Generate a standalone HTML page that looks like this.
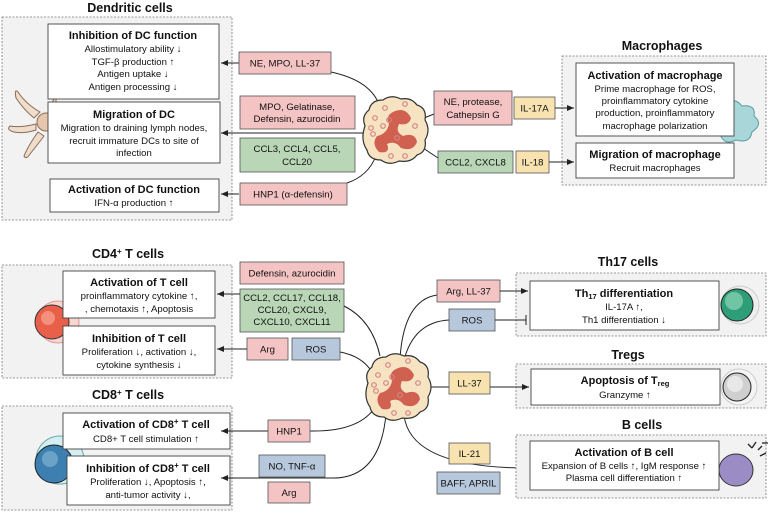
<!DOCTYPE html>
<html><head><meta charset="utf-8"><style>
html,body{margin:0;padding:0;background:#fff}
svg text{font-family:"Liberation Sans",sans-serif;fill:#111}
.b{font-weight:bold;font-size:11px}
.n{font-size:9.6px}
.t{font-weight:bold;font-size:12.5px}
.c{fill:#f2f2f2;stroke:#777;stroke-dasharray:2,1.5;stroke-width:0.8}
.w{fill:#fff;stroke:#444;stroke-width:0.9}
.pk{fill:#f4c3c3;stroke:#555;stroke-width:0.8}
.gr{fill:#b9d7b7;stroke:#555;stroke-width:0.8}
.ye{fill:#f8e3b0;stroke:#555;stroke-width:0.8}
.bl{fill:#b7c8dd;stroke:#555;stroke-width:0.8}
.l{stroke:#222;stroke-width:1;fill:none}
</style></head><body>
<svg width="768" height="513" viewBox="0 0 768 513" xmlns="http://www.w3.org/2000/svg">
<defs>
<marker id="a" markerWidth="8" markerHeight="8" refX="7" refY="4" orient="auto" markerUnits="userSpaceOnUse"><path d="M0,1 L7,4 L0,7z" fill="#222"/></marker>
<g id="neu">
<path d="M-30,-4 Q-34,-14 -26,-20 Q-24,-30 -12,-30 Q-4,-36 6,-31 Q16,-33 22,-25 Q32,-22 30,-10 Q36,0 30,10 Q32,22 22,25 Q16,33 4,31 Q-6,36 -14,30 Q-26,30 -28,20 Q-35,10 -30,-4z" fill="#f6e3c2" stroke="#333" stroke-width="1.2"/>
<path d="M-2,-18 Q10,-24 16,-12 Q14,-4 4,-6 Q0,2 8,6 Q20,2 22,12 Q18,22 6,18 Q0,10 -8,14 Q-4,24 -16,22 Q-24,14 -18,6 Q-8,4 -6,-6 Q-10,-14 -2,-18z" fill="#d0604f"/>
<g fill="none" stroke="#d58585" stroke-width="1.2">
<circle cx="-20" cy="-12" r="2.3"/><circle cx="-10" cy="-22" r="2.3"/><circle cx="-22" cy="4" r="2.3"/><circle cx="-12" cy="-4" r="2.3"/><circle cx="20" cy="-4" r="2.3"/><circle cx="-4" cy="26" r="2.3"/><circle cx="10" cy="26" r="2.3"/><circle cx="-24" cy="-2" r="2.3"/><circle cx="10" cy="-26" r="2.3"/><circle cx="-6" cy="-10" r="2.3"/><circle cx="2" cy="8" r="2.3"/></g>
</g>
</defs>

<!-- Dendritic -->
<text class="t" x="130" y="12" text-anchor="middle">Dendritic cells</text>
<rect class="c" x="2" y="17" width="230" height="203"/>
<g fill="#f0dccb" stroke="#8a6b55" stroke-width="1">
<path d="M40,112 Q26,104 18,92 Q14,88 16,98 Q24,110 34,118z"/>
<path d="M36,124 Q20,128 10,126 Q6,130 14,132 Q24,134 36,130z"/>
<path d="M38,132 Q28,146 24,156 Q26,160 30,154 Q38,144 44,136z"/>
<path d="M50,112 Q52,100 56,96 L56,112z"/>
</g>
<circle cx="46" cy="122" r="9" fill="#e6c6ad" stroke="#8a6b55"/>
<rect class="w" x="48" y="24" width="171" height="75"/>
<text text-anchor="middle" x="133"><tspan class="b" x="133" y="39">Inhibition of DC function</tspan><tspan class="n" x="133" y="52">Allostimulatory ability ↓</tspan><tspan class="n" x="133" y="65">TGF-β production ↑</tspan><tspan class="n" x="133" y="77">Antigen uptake ↓</tspan><tspan class="n" x="133" y="90">Antigen processing ↓</tspan></text>
<rect class="w" x="48" y="102" width="172" height="61"/>
<text text-anchor="middle"><tspan class="b" x="134" y="118">Migration of DC</tspan><tspan class="n" x="134" y="131">Migration to draining lymph nodes,</tspan><tspan class="n" x="134" y="144">recruit immature DCs to site of</tspan><tspan class="n" x="134" y="156">infection</tspan></text>
<rect class="w" x="50" y="179" width="169" height="33"/>
<text text-anchor="middle"><tspan class="b" x="134" y="193">Activation of DC function</tspan><tspan class="n" x="134" y="206">IFN-α production ↑</tspan></text>

<path class="l" d="M239,63 L221,63" marker-end="url(#a)"/>
<path class="l" d="M363,133 L221,133" marker-end="url(#a)"/>
<path class="l" d="M239,194 L221,194" marker-end="url(#a)"/>
<path class="l" d="M331,72 Q368,80 378,102"/>
<path class="l" d="M347,183 Q368,176 376,156"/>
<rect class="pk" x="239" y="52" width="92" height="22"/><text class="n" x="285" y="66.5" text-anchor="middle">NE, MPO, LL-37</text>
<rect class="pk" x="240" y="96" width="115" height="33"/><text class="n" text-anchor="middle"><tspan x="297" y="110">MPO, Gelatinase,</tspan><tspan x="297" y="122">Defensin, azurocidin</tspan></text>
<rect class="gr" x="240" y="138" width="115" height="34"/><text class="n" text-anchor="middle"><tspan x="297" y="152">CCL3, CCL4, CCL5,</tspan><tspan x="297" y="165">CCL20</tspan></text>
<rect class="pk" x="240" y="183" width="107" height="22"/><text class="n" x="293" y="197.5" text-anchor="middle">HNP1 (α-defensin)</text>

<!-- Macrophages -->
<path class="l" d="M424,118 L434,114"/>
<path class="l" d="M420,146 L438,158"/>
<use href="#neu" x="395" y="130"/>
<text class="t" x="662" y="50" text-anchor="middle">Macrophages</text>
<rect class="c" x="562" y="56" width="204" height="129"/>
<path d="M722,104 Q734,96 742,106 Q756,104 754,116 Q764,124 752,132 Q750,144 736,140 Q724,146 720,134" fill="#a9d6d9" stroke="#5a9ea3"/>
<rect class="w" x="576" y="63" width="158" height="73"/>
<text text-anchor="middle"><tspan class="b" x="655" y="79">Activation of macrophage</tspan><tspan class="n" x="655" y="92">Prime macrophage for ROS,</tspan><tspan class="n" x="655" y="104">proinflammatory cytokine</tspan><tspan class="n" x="655" y="116">production, proinflammatory</tspan><tspan class="n" x="655" y="129">macrophage polarization</tspan></text>
<rect class="w" x="576" y="143" width="158" height="35"/>
<text text-anchor="middle"><tspan class="b" x="655" y="158">Migration of macrophage</tspan><tspan class="n" x="655" y="171">Recruit macrophages</tspan></text>
<rect class="pk" x="434" y="91" width="78" height="34"/><text class="n" text-anchor="middle"><tspan x="473" y="105">NE, protease,</tspan><tspan x="473" y="118">Cathepsin G</tspan></text>
<rect class="ye" x="514" y="97" width="41" height="22"/><text class="n" x="534.5" y="111.5" text-anchor="middle">IL-17A</text>
<path class="l" d="M555,108 L574,108" marker-end="url(#a)"/>
<rect class="gr" x="438" y="151" width="75" height="22"/><text class="n" x="475.5" y="165.5" text-anchor="middle">CCL2, CXCL8</text>
<rect class="ye" x="516" y="151" width="33" height="22"/><text class="n" x="532.5" y="165.5" text-anchor="middle">IL-18</text>
<path class="l" d="M549,162 L574,162" marker-end="url(#a)"/>

<!-- CD4 -->
<text class="t" x="128" y="258" text-anchor="middle">CD4<tspan font-size="8" dy="-4">+</tspan><tspan dy="4"> T cells</tspan></text>
<rect class="c" x="2" y="265" width="230" height="113"/>
<circle cx="58" cy="322" r="21" fill="#f7d7d0" stroke="#d99"/>
<circle cx="52" cy="322" r="17" fill="#e8604a" stroke="#333"/>
<circle cx="48" cy="318" r="7" fill="#f8b0a0" opacity="0.6"/>
<rect class="w" x="63" y="271" width="152" height="47"/>
<text text-anchor="middle"><tspan class="b" x="139" y="286">Activation of T cell</tspan><tspan class="n" x="139" y="299">proinflammatory cytokine ↑,</tspan><tspan class="n" x="139" y="312">, chemotaxis ↑, Apoptosis</tspan></text>
<rect class="w" x="63" y="326" width="152" height="49"/>
<text text-anchor="middle"><tspan class="b" x="139" y="342">Inhibition of T cell</tspan><tspan class="n" x="139" y="355">Proliferation ↓, activation ↓,</tspan><tspan class="n" x="139" y="368">cytokine synthesis ↓</tspan></text>
<rect class="pk" x="240" y="262" width="104" height="22"/><text class="n" x="292" y="276.5" text-anchor="middle">Defensin, azurocidin</text>
<rect class="gr" x="240" y="289" width="104" height="43"/><text class="n" text-anchor="middle" font-size="9"><tspan x="292" y="301">CCL2, CCL17, CCL18,</tspan><tspan x="292" y="313">CCL20, CXCL9,</tspan><tspan x="292" y="325">CXCL10, CXCL11</tspan></text>
<path class="l" d="M240,294 L217,294" marker-end="url(#a)"/>
<rect class="pk" x="247" y="338" width="41" height="22"/><text class="n" x="267.5" y="352.5" text-anchor="middle">Arg</text>
<rect class="bl" x="292" y="338" width="48" height="22"/><text class="n" x="316" y="352.5" text-anchor="middle">ROS</text>
<path class="l" d="M247,349 L217,349" marker-end="url(#a)"/>
<path class="l" d="M344,306 Q372,320 380,356"/>
<path class="l" d="M340,352 Q362,356 372,372"/>

<!-- CD8 -->
<text class="t" x="128" y="399" text-anchor="middle">CD8<tspan font-size="8" dy="-4">+</tspan><tspan dy="4"> T cells</tspan></text>
<rect class="c" x="2" y="406" width="230" height="104"/>
<circle cx="60" cy="460" r="24" fill="#d6eef2" stroke="#6aa"/>
<circle cx="54" cy="464" r="19" fill="#3c7fb0" stroke="#222"/>
<circle cx="50" cy="459" r="8" fill="#8bbbd9" opacity="0.6"/>
<rect class="w" x="63" y="413" width="167" height="36"/>
<text text-anchor="middle"><tspan class="b" x="146" y="428">Activation of CD8<tspan font-size="8" dy="-4">+</tspan><tspan dy="4"> T cell</tspan></tspan><tspan class="n" x="146" y="442">CD8+ T cell stimulation ↑</tspan></text>
<rect class="w" x="67" y="456" width="163" height="49"/>
<text text-anchor="middle"><tspan class="b" x="148" y="472">Inhibition of CD8<tspan font-size="8" dy="-4">+</tspan><tspan dy="4"> T cell</tspan></tspan><tspan class="n" x="148" y="485">Proliferation ↓, Apoptosis ↑,</tspan><tspan class="n" x="148" y="498">anti-tumor activity ↓,</tspan></text>
<path class="l" d="M268,431 L221,431" marker-end="url(#a)"/>
<path class="l" d="M310,431 Q360,432 376,406"/>
<path class="l" d="M330,478 L221,478" marker-end="url(#a)"/>
<path class="l" d="M330,478 Q380,480 386,414"/>
<rect class="pk" x="268" y="420" width="42" height="22"/><text class="n" x="289" y="434.5" text-anchor="middle">HNP1</text>
<rect class="bl" x="259" y="455" width="66" height="22"/><text class="n" x="292" y="469.5" text-anchor="middle">NO, TNF-α</text>
<rect class="pk" x="268" y="482" width="42" height="21"/><text class="n" x="289" y="496" text-anchor="middle">Arg</text>

<!-- right bottom -->
<path class="l" d="M400,358 Q404,300 437,295"/>
<path class="l" d="M404,360 Q414,322 449,320"/>
<path class="l" d="M424,387 L449,387"/>
<path class="l" d="M404,415 Q410,468 528,468" marker-end="url(#a)"/>
<use href="#neu" x="398" y="387"/>

<text class="t" x="628" y="266" text-anchor="middle">Th17 cells</text>
<rect class="c" x="516" y="273" width="250" height="63"/>
<circle cx="740" cy="305" r="19" fill="#eee" stroke="#ccc"/>
<circle cx="737" cy="305" r="16" fill="#2d9e78" stroke="#222"/>
<circle cx="734" cy="301" r="9" fill="#8fd6b8" opacity="0.7"/>
<rect class="w" x="530" y="281" width="189" height="49"/>
<text text-anchor="middle"><tspan class="b" x="624" y="297">Th<tspan font-size="7.5" dy="2">17</tspan><tspan dy="-2"> differentiation</tspan></tspan><tspan class="n" x="624" y="310">IL-17A ↑,</tspan><tspan class="n" x="624" y="323">Th1 differentiation ↓</tspan></text>
<rect class="pk" x="437" y="280" width="63" height="22"/><text class="n" x="468.5" y="294.5" text-anchor="middle">Arg, LL-37</text>
<path class="l" d="M500,291 L528,291" marker-end="url(#a)"/>
<rect class="bl" x="449" y="309" width="46" height="22"/><text class="n" x="472" y="323.5" text-anchor="middle">ROS</text>
<path class="l" d="M495,320 L526,320 M526,315 L526,325"/>

<text class="t" x="628" y="359" text-anchor="middle">Tregs</text>
<rect class="c" x="516" y="364" width="250" height="44"/>
<circle cx="739" cy="387" r="18" fill="#f4f4f4" stroke="#ccc"/>
<circle cx="737" cy="387" r="14" fill="#cfcfcf" stroke="#222"/>
<circle cx="735" cy="384" r="8" fill="#eee" opacity="0.8"/>
<rect class="w" x="531" y="369" width="189" height="36"/>
<text text-anchor="middle"><tspan class="b" x="625" y="384">Apoptosis of T<tspan font-size="7.5" dy="2">reg</tspan></tspan><tspan class="n" x="625" y="398">Granzyme ↑</tspan></text>
<rect class="ye" x="449" y="372" width="41" height="22"/><text class="n" x="469.5" y="386.5" text-anchor="middle">LL-37</text>
<path class="l" d="M490,387 L529,387" marker-end="url(#a)"/>

<text class="t" x="642" y="429" text-anchor="middle">B cells</text>
<rect class="c" x="516" y="435" width="250" height="63"/>
<ellipse cx="736" cy="470" rx="17" ry="16" fill="#9b8cc6" stroke="#333"/>
<path d="M748,444 l4,4 m4,-6 l-4,6 m6,2 l4,-4 m-2,10 l6,-3 m-4,-10 l6,0" stroke="#222" stroke-width="1.3"/>
<rect class="w" x="530" y="441" width="189" height="49"/>
<text text-anchor="middle"><tspan class="b" x="624" y="456">Activation of B cell</tspan><tspan class="n" x="624" y="469">Expansion of B cells ↑, IgM response ↑</tspan><tspan class="n" x="624" y="481">Plasma cell differentiation ↑</tspan></text>
<rect class="ye" x="449" y="443" width="41" height="21"/><text class="n" x="469.5" y="457" text-anchor="middle">IL-21</text>
<rect class="bl" x="437" y="472" width="63" height="22"/><text class="n" x="468.5" y="486.5" text-anchor="middle">BAFF, APRIL</text>
</svg>
</body></html>
